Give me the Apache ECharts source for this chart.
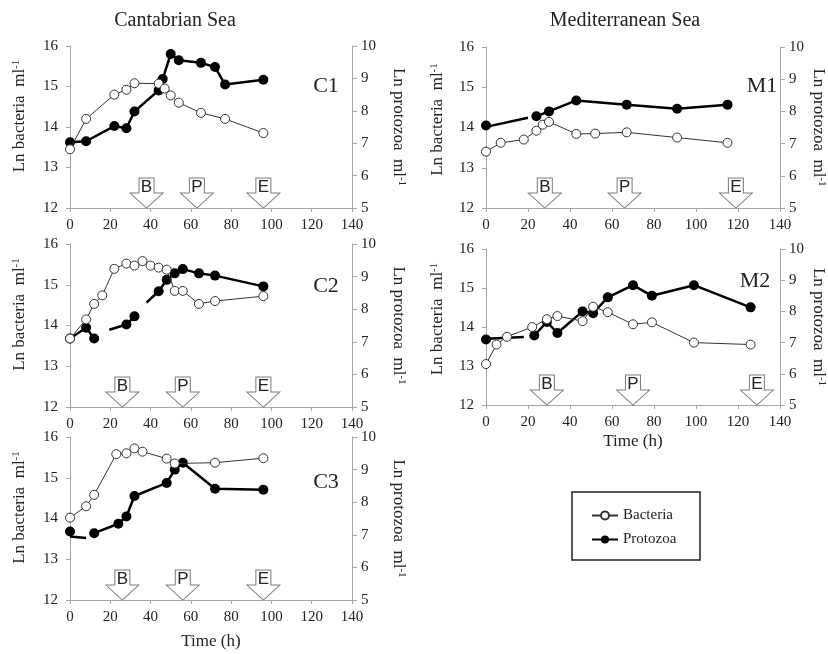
<!DOCTYPE html>
<html>
<head>
<meta charset="utf-8">
<script src="https://cdn.jsdelivr.net/npm/echarts@6/dist/echarts.min.js"></script>
<style>
  html, body { margin: 0; background: #fff; }
  #chart { width: 828px; height: 654px; }
</style>
</head>
<body>
<div id="chart"></div>
<script>
// Bacteria (left axis, Ln bacteria ml-1) and protozoa (right axis, Ln protozoa ml-1) vs time (h)
// '-' marks a break in the protozoa line, dash arrays hold the loose line pieces seen in the figure

const c1BactT = [0, 8, 22, 28, 32, 44, 47, 50, 54, 65, 77, 96];
const c1BactV = [13.45, 14.2, 14.8, 14.92, 15.08, 15.07, 14.95, 14.78, 14.6, 14.35, 14.2, 13.85];
const c1ProtT = [0, 8, 22, 28, 32, 44, 46, 50, 54, 65, 72, 77, 96];
const c1ProtV = [7.03, 7.06, 7.53, 7.46, 7.98, 8.63, 8.98, 9.75, 9.56, 9.48, 9.35, 8.81, 8.96];
const c1Dash = [];

const c2BactT = [0, 8, 12, 16, 22, 28, 32, 36, 40, 44, 48, 52, 56, 64, 72, 96];
const c2BactV = [13.68, 14.15, 14.53, 14.74, 15.39, 15.52, 15.47, 15.58, 15.47, 15.42, 15.37, 14.85, 14.85, 14.53, 14.6, 14.72];
const c2ProtT = [0, 8, 12, 20, 28, 32, 38, 44, 48, 52, 56, 64, 72, 96];
const c2ProtV = [7.1, 7.43, 7.1, '-', 7.53, 7.78, '-', 8.55, 8.9, 9.1, 9.23, 9.1, 9.03, 8.7];
const c2Dash = [[19.5, 7.37], [28, 7.53], [30, '-'], [38, 8.2], [44, 8.55]];

const c3BactT = [0, 8, 12, 23, 28, 32, 36, 48, 52, 72, 96];
const c3BactV = [14.02, 14.3, 14.58, 15.58, 15.6, 15.72, 15.64, 15.47, 15.35, 15.37, 15.48];
const c3ProtT = [0, 6, 12, 24, 28, 32, 48, 52, 56, 72, 96];
const c3ProtV = [7.1, '-', 7.05, 7.34, 7.56, 8.19, 8.59, 9.0, 9.21, 8.41, 8.38];
const c3Dash = [[0, 6.95], [8, 6.9]];

const m1BactT = [0, 7, 18, 24, 27, 30, 43, 52, 67, 91, 115];
const m1BactV = [13.4, 13.62, 13.7, 13.92, 14.07, 14.14, 13.84, 13.85, 13.88, 13.75, 13.62];
const m1ProtT = [0, 12, 24, 30, 43, 67, 91, 115];
const m1ProtV = [7.56, '-', 7.85, 8.0, 8.34, 8.21, 8.08, 8.21];
const m1Dash = [[0, 7.52], [20, 7.8]];

const m2BactT = [0, 5, 10, 22, 29, 34, 46, 51, 58, 70, 79, 99, 126];
const m2BactV = [13.05, 13.55, 13.75, 14.0, 14.2, 14.28, 14.15, 14.52, 14.38, 14.07, 14.12, 13.6, 13.55];
const m2ProtT = [0, 12, 23, 29, 34, 46, 51, 58, 70, 79, 99, 126];
const m2ProtV = [7.1, '-', 7.23, 7.66, 7.31, 8.0, 7.94, 8.45, 8.84, 8.5, 8.84, 8.13];
const m2Dash = [[0, 7.12], [18, 7.18]];

// phase arrows (B, P, E) positions on the time axis
const arrowLetters = ['B', 'P', 'E'];
const c1Arrows = [38, 63, 96];
const c2Arrows = [26, 56, 96];
const c3Arrows = [26, 56, 96];
const m1Arrows = [28, 66, 119];
const m2Arrows = [29, 70, 129];

const SERIF = 'Liberation Serif';
const SANS = 'Liberation Sans';
const AXIS_GRAY = '#a6a6a6';

const panels = [
  { id: 'C1', grid: { left: 70, top: 46, width: 282, height: 162 }, bT: c1BactT, bV: c1BactV, pT: c1ProtT, pV: c1ProtV, dash: c1Dash, arrows: c1Arrows, tag: [326, 86], timeGap: 0, lGap: 42, lPad: 22, rGap: 38 },
  { id: 'C2', grid: { left: 70, top: 244, width: 282, height: 163 }, bT: c2BactT, bV: c2BactV, pT: c2ProtT, pV: c2ProtV, dash: c2Dash, arrows: c2Arrows, tag: [326, 286], timeGap: 0, lGap: 42, lPad: 22, rGap: 38 },
  { id: 'C3', grid: { left: 70, top: 437, width: 282, height: 163 }, bT: c3BactT, bV: c3BactV, pT: c3ProtT, pV: c3ProtV, dash: c3Dash, arrows: c3Arrows, tag: [326, 482], timeGap: 33, lGap: 42, lPad: 22, rGap: 38 },
  { id: 'M1', grid: { left: 486, top: 47, width: 295, height: 161 }, bT: m1BactT, bV: m1BactV, pT: m1ProtT, pV: m1ProtV, dash: m1Dash, arrows: m1Arrows, tag: [762, 86], timeGap: 0, lGap: 40, lPad: 16, rGap: 30 },
  { id: 'M2', grid: { left: 486, top: 249, width: 295, height: 156 }, bT: m2BactT, bV: m2BactV, pT: m2ProtT, pV: m2ProtV, dash: m2Dash, arrows: m2Arrows, tag: [755, 281], timeGap: 28, lGap: 40, lPad: 16, rGap: 30 }
];

const supRich = {
  sup: { fontFamily: SERIF, fontSize: 11, verticalAlign: 'top', color: '#222' }
};

const grids = [], xAxes = [], yAxes = [], series = [];
const graphics = [
  { type: 'text', x: 175, y: 21, style: { text: 'Cantabrian Sea', fontFamily: SERIF, fontSize: 20, fill: '#222', align: 'center', verticalAlign: 'middle' } },
  { type: 'text', x: 625, y: 21, style: { text: 'Mediterranean Sea', fontFamily: SERIF, fontSize: 20, fill: '#222', align: 'center', verticalAlign: 'middle' } },
  { type: 'rect', shape: { x: 572, y: 492, width: 128, height: 68 }, style: { fill: '#fff', stroke: '#222', lineWidth: 1.5 }, z: -1 }
];

const zip = (t, v) => t.map((x, i) => [x, v[i]]);

panels.forEach((p, i) => {
  grids.push(p.grid);
  xAxes.push({
    type: 'value', gridIndex: i, min: 0, max: 140, interval: 20,
    name: p.timeGap ? 'Time (h)' : '', nameLocation: 'middle', nameGap: p.timeGap || 30,
    nameTextStyle: { fontFamily: SERIF, fontSize: 17, color: '#222' },
    axisLine: { show: true, lineStyle: { color: AXIS_GRAY, width: 1 } },
    axisTick: { show: true, length: 4, lineStyle: { color: AXIS_GRAY } },
    axisLabel: { fontFamily: SERIF, fontSize: 15, color: '#222', margin: 10 },
    splitLine: { show: false }
  });
  yAxes.push({
    type: 'value', gridIndex: i, position: 'left', min: 12, max: 16, interval: 1,
    name: 'Ln bacteria  ml{sup|-1}', nameLocation: 'middle', nameGap: p.lGap,
    nameTextStyle: { fontFamily: SERIF, fontSize: 17, color: '#222', rich: supRich, padding: [0, 0, 0, p.lPad] },
    axisLine: { show: true, lineStyle: { color: AXIS_GRAY, width: 1 } },
    axisTick: { show: true, length: 4, lineStyle: { color: AXIS_GRAY } },
    axisLabel: { fontFamily: SERIF, fontSize: 15, color: '#222', margin: 12 },
    splitLine: { show: false }
  });
  yAxes.push({
    type: 'value', gridIndex: i, position: 'right', min: 5, max: 10, interval: 1,
    name: 'Ln protozoa  ml{sup|-1}', nameLocation: 'middle', nameGap: p.rGap, nameRotate: -90,
    nameTextStyle: { fontFamily: SERIF, fontSize: 17, color: '#222', rich: supRich },
    axisLine: { show: true, lineStyle: { color: AXIS_GRAY, width: 1 } },
    axisTick: { show: true, length: 5, lineStyle: { color: AXIS_GRAY } },
    axisLabel: { fontFamily: SERIF, fontSize: 15, color: '#222', margin: 9 },
    splitLine: { show: false }
  });

  series.push({
    name: 'Bacteria', type: 'line', xAxisIndex: i, yAxisIndex: 2 * i,
    data: zip(p.bT, p.bV),
    symbol: 'circle', symbolSize: 9,
    lineStyle: { color: '#333', width: 1 },
    itemStyle: { color: '#fff', borderColor: '#333', borderWidth: 1 },
    z: 3,
    markPoint: {
      symbol: 'path://M9,0 L24,0 L24,15 L33,15 L16.5,30 L0,15 L9,15 Z',
      symbolSize: [33, 30],
      symbolOffset: [0, '-50%'],
      itemStyle: { color: '#fff', borderColor: '#7f7f7f', borderWidth: 1 },
      label: { show: true, position: 'inside', offset: [0, -6], fontFamily: SANS, fontSize: 17, color: '#222' },
      data: p.arrows.map((x, k) => ({ coord: [x, 12], value: arrowLetters[k], label: { formatter: arrowLetters[k] } })),
      silent: true
    }
  });
  series.push({
    name: 'Protozoa', type: 'line', xAxisIndex: i, yAxisIndex: 2 * i + 1,
    data: zip(p.pT, p.pV),
    connectNulls: false,
    symbol: 'circle', symbolSize: 10,
    lineStyle: { color: '#000', width: 2.5 },
    itemStyle: { color: '#000' },
    z: 2
  });
  if (p.dash.length) {
    series.push({
      name: 'dash', type: 'line', xAxisIndex: i, yAxisIndex: 2 * i + 1,
      data: p.dash, showSymbol: false, symbol: 'none', silent: true,
      lineStyle: { color: '#000', width: 2.5 }, z: 2
    });
  }
  graphics.push({
    type: 'text', x: p.tag[0], y: p.tag[1],
    style: { text: p.id, fontFamily: SERIF, fontSize: 22, fill: '#222', align: 'center', verticalAlign: 'middle' }
  });
});

const chart = echarts.init(document.getElementById('chart'), null, { renderer: 'canvas' });
chart.setOption({
  animation: false,
  backgroundColor: '#fff',
  grid: grids,
  xAxis: xAxes,
  yAxis: yAxes,
  legend: {
    data: ['Bacteria', 'Protozoa'],
    orient: 'vertical', left: 586, top: 503, itemGap: 9,
    itemWidth: 26, itemHeight: 10,
    textStyle: { fontFamily: SERIF, fontSize: 15, color: '#222' },
    selectedMode: false
  },
  graphic: graphics,
  series: series
});
</script>
</body>
</html>
